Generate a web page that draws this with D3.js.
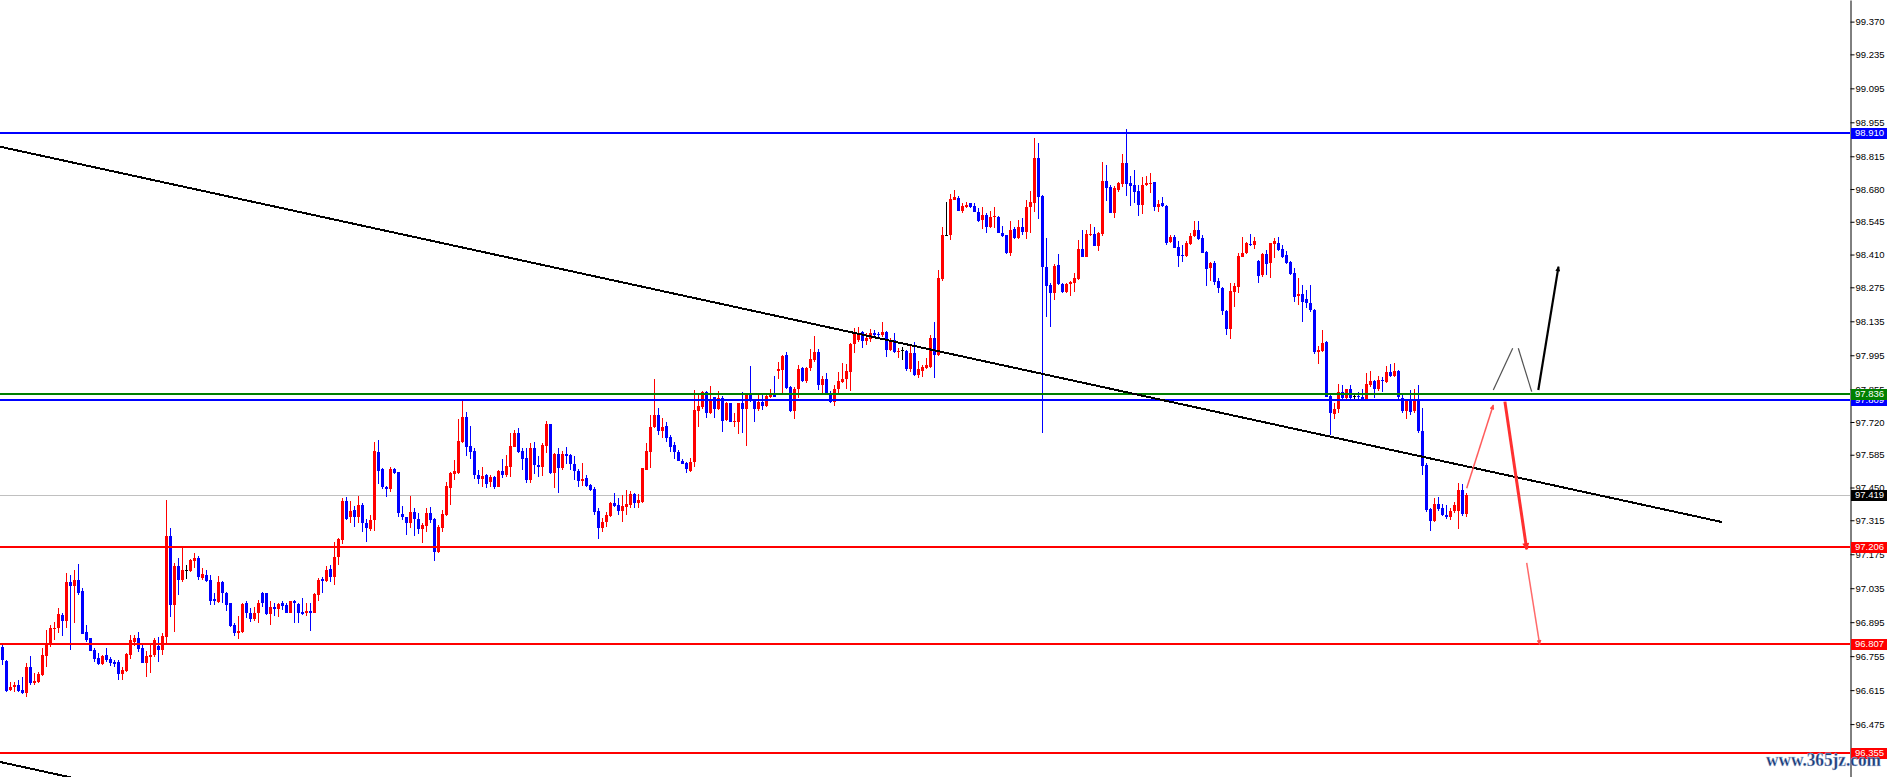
<!DOCTYPE html>
<html><head><meta charset="utf-8">
<script src="https://cdn.jsdelivr.net/npm/d3@7"></script>
<style>html,body{margin:0;padding:0;background:#fff;overflow:hidden}</style>
</head><body><svg id="c" width="1889" height="777"></svg>
<script>
// ---- DATA (prices) ----
const open = [
96.794,96.735,96.615,96.626,96.635,96.615,96.604,96.709,96.646,96.650,
96.677,96.756,96.805,96.868,96.872,96.926,96.901,97.062,97.044,97.069,
97.023,96.854,96.830,96.780,96.749,96.723,96.760,96.743,96.731,96.731,
96.683,96.695,96.761,96.813,96.830,96.790,96.727,96.753,96.760,96.798,
96.780,96.835,97.250,96.966,97.126,97.069,97.110,97.107,97.149,97.160,
97.076,97.089,97.069,96.989,96.980,97.062,97.014,96.973,96.883,96.852,
96.856,96.975,96.934,96.909,96.931,97.017,97.014,96.929,96.959,96.951,
96.973,96.966,96.934,96.982,96.970,96.937,96.934,96.941,96.934,97.006,
97.072,97.066,97.113,97.080,97.162,97.234,97.396,97.327,97.357,97.330,
97.378,97.304,97.280,97.316,97.595,97.525,97.453,97.445,97.525,97.513,
97.341,97.327,97.305,97.348,97.320,97.279,97.293,97.344,97.320,97.184,
97.284,97.337,97.449,97.506,97.508,97.639,97.741,97.621,97.600,97.502,
97.485,97.502,97.474,97.495,97.453,97.518,97.502,97.536,97.618,97.673,
97.600,97.570,97.481,97.611,97.543,97.536,97.621,97.712,97.511,97.588,
97.532,97.588,97.584,97.547,97.519,97.478,97.488,97.460,97.444,97.353,
97.284,97.306,97.334,97.386,97.378,97.355,97.371,97.378,97.423,97.385,
97.392,97.522,97.598,97.698,97.749,97.684,97.704,97.660,97.625,97.596,
97.561,97.552,97.519,97.554,97.766,97.783,97.843,97.758,97.821,97.775,
97.820,97.728,97.797,97.721,97.721,97.797,97.775,97.834,97.813,97.775,
97.804,97.787,97.824,97.831,97.931,97.934,97.996,97.865,97.766,97.854,
97.941,97.889,97.941,97.975,98.010,97.872,97.897,97.841,97.802,97.854,
97.886,97.896,97.927,98.041,98.058,98.089,98.055,98.063,98.085,98.081,
98.078,98.089,98.016,98.058,98.011,98.016,98.014,97.937,98.003,97.913,
97.931,97.944,97.948,98.065,97.996,98.308,98.489,98.490,98.635,98.642,
98.591,98.607,98.621,98.610,98.587,98.552,98.573,98.522,98.563,98.566,
98.500,98.489,98.415,98.517,98.477,98.525,98.504,98.604,98.624,98.806,
98.651,98.360,98.284,98.250,98.366,98.289,98.254,98.289,98.291,98.309,
98.431,98.401,98.489,98.495,98.445,98.495,98.714,98.690,98.583,98.676,
98.701,98.786,98.706,98.697,98.672,98.614,98.697,98.703,98.709,98.607,
98.621,98.610,98.463,98.481,98.442,98.408,98.405,98.453,98.486,98.511,
98.477,98.422,98.353,98.376,98.301,98.273,98.179,98.102,98.257,98.278,
98.401,98.415,98.453,98.449,98.383,98.326,98.412,98.374,98.453,98.459,
98.431,98.408,98.381,98.335,98.240,98.247,98.227,98.212,98.181,98.009,
98.014,98.051,97.827,97.753,97.772,97.845,97.817,97.858,97.827,97.827,
97.824,97.813,97.872,97.889,97.856,97.893,97.886,97.927,97.909,97.931,
97.817,97.766,97.813,97.766,97.810,97.684,97.542,97.360,97.313,97.384,
97.364,97.336,97.329,97.354,97.354,97.439,97.340];
const high = [
96.808,96.739,96.647,96.650,96.657,96.670,96.728,96.756,96.684,96.691,
96.787,96.863,96.883,96.897,96.953,96.931,97.099,97.089,97.110,97.135,
97.034,96.883,96.830,96.787,96.767,96.760,96.787,96.750,96.739,96.739,
96.709,96.767,96.842,96.842,96.854,96.811,96.776,96.808,96.830,96.835,
96.849,97.399,97.283,97.137,97.158,97.203,97.131,97.154,97.179,97.168,
97.117,97.110,97.089,97.014,97.085,97.066,97.021,96.973,96.890,96.922,
96.975,96.982,96.955,96.956,96.986,97.021,97.017,96.984,96.975,96.975,
96.984,96.975,96.984,96.986,96.973,96.993,96.973,96.973,97.014,97.076,
97.083,97.126,97.131,97.227,97.241,97.405,97.412,97.396,97.375,97.415,
97.385,97.319,97.337,97.639,97.646,97.529,97.456,97.536,97.529,97.515,
97.374,97.330,97.415,97.367,97.344,97.305,97.364,97.371,97.323,97.295,
97.357,97.474,97.515,97.563,97.731,97.813,97.763,97.704,97.611,97.522,
97.536,97.506,97.502,97.497,97.522,97.567,97.584,97.673,97.687,97.694,
97.611,97.611,97.632,97.639,97.580,97.632,97.724,97.712,97.594,97.611,
97.602,97.616,97.588,97.580,97.525,97.552,97.502,97.464,97.453,97.364,
97.323,97.350,97.389,97.429,97.405,97.419,97.440,97.436,97.426,97.423,
97.532,97.635,97.749,97.897,97.779,97.735,97.721,97.665,97.639,97.605,
97.566,97.556,97.573,97.852,97.838,97.849,97.849,97.868,97.824,97.846,
97.827,97.804,97.799,97.755,97.799,97.843,97.838,97.950,97.816,97.835,
97.835,97.830,97.857,97.909,97.968,97.996,98.010,97.868,97.865,97.955,
97.948,97.948,98.019,98.074,98.019,97.909,97.920,97.849,97.872,97.927,
97.964,97.961,98.044,98.106,98.110,98.096,98.085,98.102,98.099,98.092,
98.133,98.096,98.065,98.085,98.023,98.030,98.016,98.033,98.051,97.972,
97.955,97.982,98.078,98.133,98.346,98.522,98.628,98.659,98.676,98.651,
98.624,98.628,98.624,98.621,98.600,98.604,98.583,98.591,98.604,98.569,
98.528,98.490,98.550,98.522,98.552,98.559,98.635,98.673,98.889,98.871,
98.655,98.477,98.291,98.371,98.412,98.291,98.291,98.302,98.332,98.470,
98.511,98.511,98.536,98.522,98.504,98.793,98.779,98.697,98.692,98.710,
98.824,98.927,98.734,98.758,98.697,98.728,98.734,98.745,98.709,98.635,
98.646,98.614,98.490,98.490,98.467,98.449,98.467,98.497,98.550,98.550,
98.490,98.426,98.381,98.383,98.312,98.278,98.181,98.291,98.291,98.415,
98.484,98.463,98.495,98.481,98.387,98.418,98.429,98.459,98.477,98.481,
98.449,98.426,98.385,98.353,98.312,98.284,98.264,98.284,98.184,98.033,
98.099,98.055,97.831,97.799,97.876,97.872,97.858,97.872,97.835,97.845,
97.856,97.920,97.931,97.893,97.909,97.906,97.950,97.959,97.964,97.934,
97.838,97.813,97.851,97.858,97.872,97.776,97.549,97.364,97.405,97.412,
97.384,97.377,97.364,97.391,97.467,97.464,97.426];
const low = [
96.718,96.609,96.613,96.609,96.607,96.599,96.588,96.637,96.637,96.646,
96.673,96.712,96.794,96.821,96.849,96.838,96.870,96.780,96.890,97.007,
96.846,96.815,96.778,96.732,96.717,96.717,96.732,96.714,96.712,96.657,
96.657,96.691,96.742,96.798,96.773,96.725,96.670,96.687,96.753,96.732,
96.760,96.808,96.918,96.856,97.007,97.062,97.072,97.103,97.117,97.069,
97.069,97.062,96.966,96.966,96.973,96.973,96.942,96.876,96.838,96.827,
96.849,96.911,96.897,96.900,96.893,96.956,96.925,96.885,96.920,96.918,
96.945,96.931,96.931,96.893,96.893,96.925,96.920,96.860,96.931,96.984,
97.017,97.062,97.061,97.048,97.131,97.217,97.316,97.302,97.286,97.305,
97.268,97.227,97.272,97.272,97.464,97.444,97.412,97.433,97.506,97.327,
97.316,97.254,97.282,97.250,97.258,97.223,97.268,97.302,97.148,97.179,
97.268,97.333,97.378,97.481,97.506,97.632,97.580,97.566,97.484,97.464,
97.453,97.447,97.453,97.445,97.451,97.491,97.495,97.495,97.616,97.594,
97.522,97.470,97.470,97.506,97.495,97.497,97.594,97.506,97.447,97.429,
97.522,97.547,97.522,97.481,97.451,97.456,97.453,97.437,97.337,97.239,
97.268,97.286,97.330,97.371,97.337,97.309,97.337,97.367,97.364,97.364,
97.388,97.522,97.532,97.694,97.666,97.653,97.639,97.598,97.566,97.561,
97.547,97.511,97.515,97.535,97.700,97.772,97.735,97.753,97.735,97.769,
97.680,97.724,97.721,97.698,97.669,97.676,97.622,97.804,97.721,97.765,
97.769,97.780,97.817,97.821,97.896,97.838,97.858,97.762,97.732,97.817,
97.886,97.879,97.931,97.968,97.852,97.838,97.838,97.799,97.786,97.838,
97.879,97.854,97.846,98.003,98.051,98.026,98.036,98.051,98.071,98.071,
98.071,97.989,98.014,98.006,97.982,97.975,97.931,97.927,97.909,97.900,
97.907,97.937,97.941,97.903,97.992,98.302,98.486,98.470,98.635,98.589,
98.583,98.600,98.600,98.584,98.546,98.514,98.500,98.518,98.518,98.497,
98.484,98.412,98.405,98.473,98.474,98.490,98.473,98.500,98.587,98.555,
97.673,98.151,98.113,98.223,98.284,98.250,98.250,98.240,98.257,98.305,
98.398,98.398,98.486,98.445,98.426,98.486,98.632,98.580,98.562,98.669,
98.690,98.651,98.610,98.624,98.569,98.576,98.692,98.665,98.591,98.587,
98.604,98.449,98.456,98.436,98.360,98.381,98.401,98.449,98.481,98.470,
98.415,98.282,98.301,98.284,98.250,98.161,98.078,98.062,98.192,98.253,
98.398,98.411,98.445,98.431,98.291,98.319,98.326,98.312,98.394,98.426,
98.394,98.371,98.326,98.216,98.202,98.133,98.188,98.174,98.000,97.959,
98.009,97.821,97.666,97.731,97.758,97.810,97.813,97.810,97.813,97.813,
97.810,97.810,97.865,97.817,97.849,97.845,97.882,97.906,97.906,97.810,
97.758,97.731,97.748,97.755,97.676,97.501,97.350,97.272,97.309,97.354,
97.332,97.322,97.318,97.343,97.277,97.332,97.329];
const close = [
96.739,96.613,96.626,96.637,96.613,96.602,96.709,96.646,96.654,96.681,
96.760,96.808,96.871,96.872,96.929,96.901,97.062,97.044,97.069,97.017,
96.848,96.821,96.778,96.745,96.723,96.756,96.739,96.728,96.724,96.683,
96.696,96.764,96.821,96.828,96.785,96.727,96.756,96.760,96.821,96.780,
96.839,97.250,96.966,97.126,97.069,97.110,97.110,97.151,97.160,97.083,
97.094,97.066,96.984,96.984,97.062,97.014,96.966,96.879,96.852,96.859,
96.970,96.931,96.909,96.934,96.975,96.973,96.929,96.959,96.951,96.970,
96.962,96.934,96.982,96.975,96.934,96.929,96.941,96.934,97.010,97.069,
97.066,97.110,97.080,97.162,97.236,97.396,97.319,97.355,97.330,97.378,
97.302,97.282,97.316,97.600,97.519,97.451,97.445,97.525,97.511,97.344,
97.327,97.305,97.349,97.320,97.280,97.295,97.344,97.316,97.186,97.286,
97.341,97.456,97.508,97.518,97.642,97.741,97.618,97.598,97.502,97.485,
97.497,97.464,97.495,97.453,97.518,97.502,97.539,97.621,97.673,97.598,
97.567,97.481,97.611,97.543,97.536,97.624,97.712,97.511,97.588,97.532,
97.588,97.580,97.547,97.519,97.478,97.485,97.458,97.440,97.350,97.284,
97.309,97.337,97.386,97.374,97.355,97.375,97.382,97.423,97.385,97.398,
97.532,97.600,97.698,97.749,97.684,97.698,97.655,97.618,97.595,97.561,
97.547,97.525,97.554,97.769,97.787,97.843,97.758,97.810,97.775,97.820,
97.724,97.797,97.721,97.724,97.797,97.775,97.834,97.810,97.775,97.804,
97.787,97.827,97.831,97.824,97.940,97.992,97.861,97.766,97.854,97.938,
97.889,97.944,97.979,98.010,97.872,97.897,97.841,97.802,97.854,97.889,
97.897,97.931,98.041,98.085,98.085,98.055,98.067,98.085,98.078,98.078,
98.089,98.016,98.055,98.010,98.014,98.016,97.937,98.003,97.913,97.937,
97.948,97.955,98.065,97.996,98.312,98.490,98.489,98.639,98.646,98.591,
98.610,98.614,98.604,98.587,98.550,98.573,98.522,98.566,98.569,98.500,
98.486,98.415,98.511,98.477,98.525,98.504,98.604,98.628,98.806,98.646,
98.357,98.282,98.250,98.363,98.289,98.254,98.289,98.295,98.313,98.431,
98.401,98.495,98.495,98.445,98.500,98.714,98.686,98.583,98.686,98.703,
98.786,98.701,98.694,98.669,98.614,98.697,98.706,98.706,98.607,98.618,
98.610,98.456,98.481,98.438,98.404,98.405,98.456,98.486,98.511,98.474,
98.418,98.350,98.376,98.298,98.271,98.179,98.104,98.260,98.280,98.404,
98.418,98.456,98.449,98.467,98.323,98.412,98.371,98.456,98.466,98.429,
98.401,98.376,98.330,98.236,98.247,98.216,98.209,98.181,98.010,98.016,
98.047,97.824,97.758,97.772,97.845,97.817,97.856,97.817,97.827,97.824,
97.816,97.876,97.889,97.856,97.893,97.890,97.927,97.909,97.931,97.821,
97.766,97.810,97.762,97.810,97.684,97.538,97.357,97.313,97.384,97.360,
97.336,97.329,97.354,97.377,97.439,97.340,97.419];

const axisTicks = [99.370,99.235,99.095,98.955,98.815,98.680,98.545,98.410,98.275,98.135,
  97.995,97.855,97.720,97.585,97.450,97.315,97.175,97.035,96.895,96.755,96.615,96.475];

// horizontal levels (price) and their axis labels
const levelPrices = [97.419, 98.910, 97.809, 97.836, 97.206, 96.807, 96.355];
const levelLabels = ["97.419","98.910","97.809","97.836","97.206","96.807","96.355"];

// trend channel lines: [bar index, price]
const trendMain = [[-0.625, 98.8545], [429.8, 97.308]];
const trendLower = [[-0.625, 96.319], [30, 96.209]];

// projected paths: [bar index, price]
const blackUp1 = [[372.7, 97.852], [377.55, 98.024]];
const blackDown = [[378.95, 98.024], [382.3, 97.845]];
const blackUp2 = [[383.95, 97.852], [389.0, 98.360]];
const redUp = [[366.05, 97.447], [372.7, 97.790]];
const redDown1 = [[375.6, 97.804], [381.05, 97.195]];
const redDown2 = [[381.05, 97.139], [384.3, 96.803]];

// ---- STYLES ----
const levelColors = ["#c0c0c0", "#0000ff", "#0000ff", "#008000", "#ff0000", "#ff0000", "#ff0000"];
const levelBoxColors = ["#000000", "#0000ff", "#0000ff", "#008000", "#ff0000", "#ff0000", "#ff0000"];
const UP = "#ff0000", DOWN = "#0000ff", FLAT = "#000000";

const n = close.length;
if (open.length !== n || high.length !== n || low.length !== n) throw new Error("length mismatch " + [open.length, high.length, low.length, n]);

const W = 1889, H = 777, plotRight = 1850;
const x = d3.scaleLinear().domain([0, 1]).range([2.5, 6.5]);
const y = d3.scaleLinear().domain([96.257, 99.459]).range([777, 0]);

const svg = d3.select("#c");
svg.append("rect").attr("width", W).attr("height", H).attr("fill", "#fff");
const defs = svg.append("defs");
defs.append("clipPath").attr("id", "clip").append("rect").attr("x", 0).attr("y", 0).attr("width", plotRight).attr("height", H);
function marker(id, color, w, h) {
  defs.append("marker").attr("id", id).attr("viewBox", "0 0 10 10").attr("refX", 9).attr("refY", 5)
    .attr("markerUnits", "userSpaceOnUse").attr("markerWidth", w).attr("markerHeight", h).attr("orient", "auto")
    .append("path").attr("d", "M0,0 L10,5 L0,10 z").attr("fill", color);
}
marker("arR", "#ff4a4a", 8, 5);
marker("arR2", "#ff2a2a", 10, 7);
marker("arK", "#000000", 10, 5);

const g = svg.append("g").attr("clip-path", "url(#clip)");

// grey level line behind candles
g.append("line").attr("x1", 0).attr("x2", plotRight).attr("y1", y(levelPrices[0])).attr("y2", y(levelPrices[0]))
  .attr("stroke", levelColors[0]).attr("stroke-width", 1).attr("shape-rendering", "crispEdges");

// candles
const idx = d3.range(n);
const col = i => close[i] > open[i] ? UP : (close[i] < open[i] ? DOWN : FLAT);
g.append("g").selectAll("line").data(idx).join("line")
  .attr("x1", i => x(i)).attr("x2", i => x(i))
  .attr("y1", i => y(Math.max(high[i], open[i], close[i]))).attr("y2", i => y(Math.min(low[i], open[i], close[i])))
  .attr("stroke", col).attr("stroke-width", 1).attr("shape-rendering", "crispEdges");
g.append("g").selectAll("rect").data(idx).join("rect")
  .attr("x", i => x(i) - 1.5).attr("width", 3)
  .attr("y", i => y(Math.max(open[i], close[i])))
  .attr("height", i => Math.max(1, y(Math.min(open[i], close[i])) - y(Math.max(open[i], close[i]))))
  .attr("fill", col).attr("shape-rendering", "crispEdges");

// level lines
levelPrices.forEach((p, k) => {
  if (k === 0) return;
  g.append("line").attr("x1", 0).attr("x2", plotRight).attr("y1", y(p)).attr("y2", y(p))
    .attr("stroke", levelColors[k]).attr("stroke-width", 2).attr("shape-rendering", "crispEdges");
});

// trend lines
const line = d3.line().x(d => x(d[0])).y(d => y(d[1]));
g.append("path").attr("d", line(trendMain)).attr("stroke", "#000").attr("stroke-width", 2).attr("fill", "none").attr("shape-rendering", "crispEdges");
g.append("path").attr("d", line(trendLower)).attr("stroke", "#000").attr("stroke-width", 2).attr("fill", "none").attr("shape-rendering", "crispEdges");

// projection arrows
g.append("path").attr("d", line(blackUp1)).attr("stroke", "#333").attr("stroke-opacity", 0.85).attr("stroke-width", 1.2).attr("fill", "none");
g.append("path").attr("d", line(blackDown)).attr("stroke", "#333").attr("stroke-opacity", 0.85).attr("stroke-width", 1.2).attr("fill", "none");
g.append("path").attr("d", line(blackUp2)).attr("stroke", "#000").attr("stroke-width", 2.2).attr("fill", "none").attr("marker-end", "url(#arK)");
g.append("path").attr("d", line(redUp)).attr("stroke", "#ff4a4a").attr("stroke-opacity", 0.9).attr("stroke-width", 1.5).attr("fill", "none").attr("marker-end", "url(#arR)");
g.append("path").attr("d", line(redDown1)).attr("stroke", "#ff3030").attr("stroke-width", 3).attr("fill", "none").attr("marker-end", "url(#arR2)");
g.append("path").attr("d", line(redDown2)).attr("stroke", "#ff5a5a").attr("stroke-opacity", 0.9).attr("stroke-width", 1.5).attr("fill", "none").attr("marker-end", "url(#arR)");

// price axis
const axis = d3.axisRight(y).tickValues(axisTicks).tickFormat(d => d.toFixed(3)).tickSize(4).tickSizeOuter(0).tickPadding(1);
const ag = svg.append("g").attr("transform", `translate(${plotRight + 0.5},0)`).call(axis);
ag.select(".domain").attr("stroke", "#000");
ag.selectAll(".tick line").attr("stroke", "#000");
ag.selectAll(".tick text").attr("fill", "#000").style("font-family", "'Liberation Sans', Arial, sans-serif").style("font-size", "9.5px");

// level boxes on axis
levelPrices.forEach((p, k) => {
  const yy = Math.round(y(p));
  svg.append("rect").attr("x", plotRight + 1).attr("y", yy - 5.5).attr("width", 36).attr("height", 11)
    .attr("fill", levelBoxColors[k]).attr("shape-rendering", "crispEdges");
  svg.append("text").attr("x", plotRight + 5).attr("y", yy).attr("dy", "0.36em")
    .attr("fill", "#fff").style("font-family", "'Liberation Sans', Arial, sans-serif").style("font-size", "9.5px")
    .text(levelLabels[k]);
});

// watermark
svg.append("text").attr("x", 1766).attr("y", 766)
  .attr("textLength", 115).attr("lengthAdjust", "spacingAndGlyphs")
  .style("font-family", "'Liberation Serif', 'DejaVu Serif', serif").style("font-weight", "bold").style("font-size", "18px")
  .attr("fill", "#1d3f7a").attr("stroke", "#c8d4ea").attr("stroke-width", 0.3)
  .text("www.365jz.com");
</script>
</body></html>
